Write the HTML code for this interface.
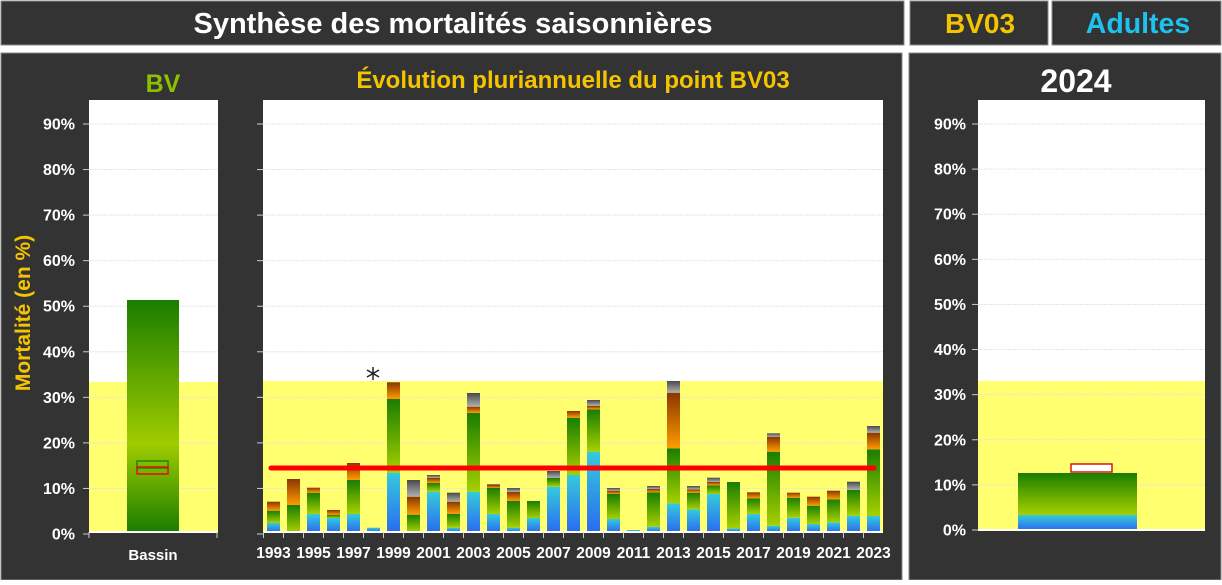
<!DOCTYPE html>
<html><head><meta charset="utf-8"><style>
body{margin:0;width:1222px;height:580px;background:#fff;overflow:hidden;font-family:"Liberation Sans",sans-serif}
</style></head><body>
<svg width="1222" height="580" xmlns="http://www.w3.org/2000/svg" font-family="Liberation Sans, sans-serif">
<defs>
<linearGradient id="gb" x1="0" y1="1" x2="0" y2="0"><stop offset="0" stop-color="#2a6cf0"/><stop offset="1" stop-color="#35cadb"/></linearGradient>
<linearGradient id="gg" x1="0" y1="1" x2="0" y2="0"><stop offset="0" stop-color="#a6d000"/><stop offset="1" stop-color="#1a7d00"/></linearGradient>
<linearGradient id="go" x1="0" y1="1" x2="0" y2="0"><stop offset="0" stop-color="#ff9c00"/><stop offset="1" stop-color="#8a3600"/></linearGradient>
<linearGradient id="gy" x1="0" y1="1" x2="0" y2="0"><stop offset="0" stop-color="#b0b0b0"/><stop offset="1" stop-color="#4a4a4a"/></linearGradient>
<linearGradient id="gl" x1="0" y1="0" x2="0" y2="1"><stop offset="0" stop-color="#1a7d00"/><stop offset="0.62" stop-color="#a0cc00"/><stop offset="1" stop-color="#1a7d00"/></linearGradient>
</defs>
<rect x="1" y="1" width="903" height="44" fill="#333" stroke="#888"/>
<text x="453" y="33" text-anchor="middle" fill="#fff" font-size="29" font-weight="bold">Synthèse des mortalités saisonnières</text>
<rect x="910" y="1" width="138" height="44" fill="#333" stroke="#888"/>
<text x="980" y="33" text-anchor="middle" fill="#f5c400" font-size="28" font-weight="bold">BV03</text>
<rect x="1052" y="1" width="169" height="44" fill="#333" stroke="#888"/>
<text x="1138" y="33" text-anchor="middle" fill="#1ec0ec" font-size="28.5" font-weight="bold">Adultes</text>
<rect x="1" y="53" width="901" height="527" fill="#333" stroke="#888"/>
<rect x="909" y="53" width="312" height="527" fill="#333" stroke="#888"/>
<text x="163" y="92" text-anchor="middle" fill="#8cc000" font-size="25" font-weight="bold">BV</text>
<text x="573" y="88" text-anchor="middle" fill="#f5c400" font-size="24" font-weight="bold">Évolution pluriannuelle du point BV03</text>
<text x="1076" y="92" text-anchor="middle" fill="#fff" font-size="32" font-weight="bold">2024</text>
<text transform="translate(30,313) rotate(-90)" text-anchor="middle" fill="#f5c400" font-size="21" font-weight="bold">Mortalité (en %)</text>
<rect x="89" y="100" width="129" height="432" fill="#fff"/>
<rect x="89" y="382" width="129" height="150" fill="#ffff70"/>
<g id="lg"></g>
<rect x="127" y="300" width="52" height="232" fill="url(#gl)"/>
<rect x="137" y="461" width="31" height="7" fill="none" stroke="#1a8a00" stroke-width="1.5"/>
<rect x="137" y="467" width="31" height="7" fill="none" stroke="#e01010" stroke-width="1.5"/>
<line x1="89" y1="532" x2="218" y2="532" stroke="#fff" stroke-width="2"/>
<line x1="89" y1="532" x2="89" y2="538" stroke="#ccc"/><line x1="217" y1="532" x2="217" y2="538" stroke="#ccc"/>
<text x="153" y="560" text-anchor="middle" fill="#fff" font-size="15" font-weight="bold">Bassin</text>
<rect x="263" y="100" width="620" height="432" fill="#fff"/>
<rect x="263" y="381" width="620" height="151" fill="#ffff70"/>
<g id="mid"></g>
<line x1="263" y1="532" x2="883" y2="532" stroke="#fff" stroke-width="2"/>
<line x1="271" y1="468" x2="874" y2="468" stroke="#f00" stroke-width="5" stroke-linecap="round"/>
<g stroke="#222" stroke-width="1.5"><line x1="373" y1="367" x2="373" y2="380"/><line x1="367" y1="370" x2="379" y2="377"/><line x1="367" y1="377" x2="379" y2="370"/></g>
<rect x="978" y="100" width="227" height="430" fill="#fff"/>
<rect x="978" y="381" width="227" height="149" fill="#ffff70"/>
<g id="rg"></g>
<rect x="1018" y="515" width="119" height="15" fill="url(#gb)"/>
<rect x="1018" y="473" width="119" height="42" fill="url(#gg)"/>
<rect x="1071" y="464" width="41" height="8" fill="#fff" stroke="#e01010" stroke-width="1.5"/>
<line x1="978" y1="530" x2="1205" y2="530" stroke="#fff" stroke-width="2"/>
</svg>
<script>
var NS="http://www.w3.org/2000/svg",svg=document.querySelector('svg');
function el(t,a,p){var e=document.createElementNS(NS,t);for(var k in a)e.setAttribute(k,a[k]);(p||svg).appendChild(e);return e;}
function axis(g,x0,x1,base,top90,lx,labels){
 for(var i=0;i<=9;i++){var y=base-(base-top90)*i/9;
  if(i>0)el('line',{x1:x0,x2:x1,y1:y,y2:y,stroke:'#e4e4e4','stroke-width':1,'stroke-dasharray':'2,1'},document.getElementById(g));
  el('line',{x1:x0-6,x2:x0,y1:y,y2:y,stroke:'#ccc'});
  if(labels){var t=el('text',{x:lx,y:y+5.5,'text-anchor':'end',fill:'#fff','font-size':16,'font-weight':'bold'});t.textContent=i*10+'%';}
 }}
axis('lg',89,218,534,124,75,true);
axis('mid',263,883,534,124,0,false);
axis('rg',978,1205,530,124,966,true);
var d=[[523,510.7,501.7,0],[532,505,479,0],[514,492.7,487.7,0],[518,515,510,0],[514,480,463,0],[527.7,0,0,0],[472.7,399,382.3,0],[532,514.7,496.7,480],[491.7,483,478,475],[527.7,514,501.7,492.7],[491.7,413,406.7,393],[514,488,485,484],[527.7,501,492,488],[518,501,0,0],[486.7,478,0,471],[475,417.7,411,0],[451.7,409.3,406,400],[519,494,491,488],[530,0,0,0],[526.7,492.3,489,486],[503.3,448.3,392.7,381],[509.3,492.7,489.3,486],[494,485.3,482,477.7],[528.3,482,0,0],[514,498.3,492.3,0],[525.7,451.7,436.7,433.3],[517.7,497.7,492.7,0],[524,505.7,496.7,0],[522.3,499.3,490.7,0],[515.7,490,0,481.7],[516,449.3,432.7,426]];
var fills=['url(#gb)','url(#gg)','url(#go)','url(#gy)'];
var mid=document.getElementById('mid');
for(var i=0;i<31;i++){var x=267+i*20,prev=532;
 for(var s=0;s<4;s++){var t=d[i][s];if(!t)continue;if(t<prev){el('rect',{x:x,y:t,width:13,height:prev-t,fill:fills[s]},mid);prev=t;}}
 el('line',{x1:x-3.5,x2:x-3.5,y1:532,y2:538,stroke:'#ccc'});
 if(i%2==0){var tx=el('text',{x:x+6.5,y:558,'text-anchor':'middle',fill:'#fff','font-size':15.5,'font-weight':'bold'});tx.textContent=1993+i;}
}
</script>
</body></html>
